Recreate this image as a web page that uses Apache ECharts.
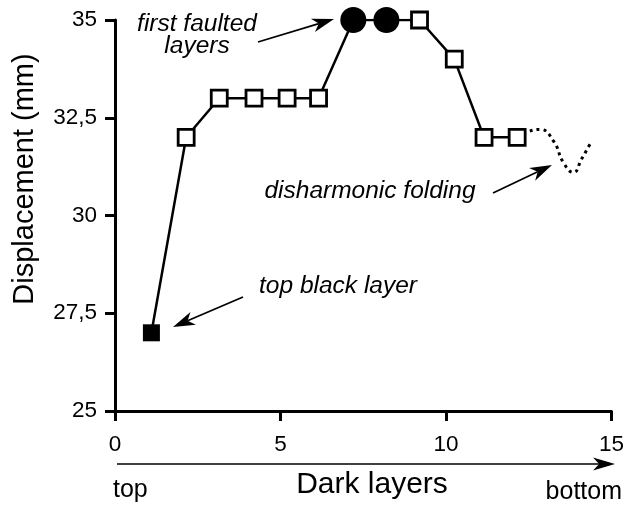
<!DOCTYPE html>
<html>
<head>
<meta charset="utf-8">
<script src="https://cdn.jsdelivr.net/npm/echarts@6/dist/echarts.min.js"></script>
<style>
  html, body { margin: 0; padding: 0; background: #fff; }
  #chart { width: 627px; height: 507px; }
</style>
</head>
<body>
<div id="chart"></div>
<script>
// Dark layer position (from top) and measured displacement
const layerPos     = [1.1, 2.15, 3.15, 4.2, 5.2, 6.15, 7.2, 8.2, 9.2, 10.25, 11.15, 12.15];
const displacement = [27, 32, 33, 33, 33, 33, 35, 35, 35, 34, 32, 32];
// marker kind per layer: 'black' = top black layer, 'fault' = first faulted, 'open' = others
const markerKind   = ['black', 'open', 'open', 'open', 'open', 'open', 'fault', 'fault', 'open', 'open', 'open', 'open'];

// sketch of the disharmonic fold beyond the last measured layer
const foldX = [12.15, 12.5, 12.85, 13.25, 13.55, 13.85, 14.1, 14.4];
const foldY = [32, 32.15, 32.2, 31.9, 31.35, 31.1, 31.45, 31.9];

const xTicks = [0, 5, 10, 15];
const yTicks = [25, 27.5, 30, 32.5, 35];

const FONT = '"Liberation Sans", Arial, Helvetica, sans-serif';

const chart = echarts.init(document.getElementById('chart'), null, { renderer: 'canvas' });

const markerStyle = {
  open:  { symbol: 'rect',   symbolSize: 16, itemStyle: { color: '#fff', borderColor: '#000', borderWidth: 2.8 } },
  black: { symbol: 'rect',   symbolSize: 17, itemStyle: { color: '#000', borderColor: '#000', borderWidth: 0 } },
  fault: { symbol: 'circle', symbolSize: 26, itemStyle: { color: '#000', borderColor: '#000', borderWidth: 0 } }
};

const mainData = layerPos.map((x, i) => Object.assign({ value: [x, displacement[i]] }, markerStyle[markerKind[i]]));
const foldData = foldX.map((x, i) => [x, foldY[i]]);

// arrow helper: shaft plus filled head
function arrow(x1, y1, x2, y2, len, half, width) {
  const dx = x2 - x1, dy = y2 - y1;
  const d = Math.sqrt(dx * dx + dy * dy);
  const ux = dx / d, uy = dy / d;
  const nx = -uy, ny = ux;
  const bx = x2 - ux * len, by = y2 - uy * len;
  const mx = x2 - ux * len * 0.72, my = y2 - uy * len * 0.72;
  return [
    { type: 'line', silent: true, shape: { x1: x1, y1: y1, x2: mx, y2: my },
      style: { stroke: '#000', lineWidth: width } },
    { type: 'polygon', silent: true,
      shape: { points: [[x2, y2], [bx + nx * half, by + ny * half], [mx, my], [bx - nx * half, by - ny * half]] },
      style: { fill: '#000' } }
  ];
}

function label(text, x, y, size, opts) {
  opts = opts || {};
  return {
    type: 'text', silent: true, x: x, y: y, rotation: opts.rotation || 0,
    style: {
      text: text,
      font: (opts.italic ? 'italic ' : '') + size + 'px ' + FONT,
      fill: '#000',
      textAlign: opts.align || 'center', align: opts.align || 'center',
      textVerticalAlign: 'middle', verticalAlign: 'middle'
    }
  };
}

const graphics = [].concat(
  arrow(258, 42, 334, 19, 22, 7, 1.8),
  arrow(493, 193, 552, 165, 22, 7, 1.8),
  arrow(243, 297, 173, 327, 22, 7, 1.8),
  arrow(117, 464, 615, 464, 22, 6.5, 1.6),
  [
    label('first faulted', 197, 24, 24.5, { italic: true }),
    label('layers', 197, 46, 24.5, { italic: true }),
    label('disharmonic folding', 370, 191, 24.5, { italic: true }),
    label('top black layer', 338, 286, 24.5, { italic: true }),
    label('top', 113, 490, 25, { align: 'left' }),
    label('Dark layers', 372, 485, 30),
    label('bottom', 622, 492, 25, { align: 'right' }),
    label('Displacement (mm)', 25, 179, 29, { rotation: Math.PI / 2 })
  ]
);

chart.setOption({
  animation: false,
  backgroundColor: '#fff',
  grid: { left: 115, right: 14, top: 20, bottom: 96, containLabel: false },
  xAxis: {
    type: 'value', min: xTicks[0], max: xTicks[xTicks.length - 1], interval: 5,
    axisLine: { show: true, onZero: false, lineStyle: { color: '#000', width: 3 } },
    axisTick: { show: true, inside: false, length: 10, lineStyle: { color: '#000', width: 3 } },
    axisLabel: { color: '#000', fontSize: 22.5, fontFamily: FONT, margin: 22 },
    splitLine: { show: false }
  },
  yAxis: {
    type: 'value', min: yTicks[0], max: yTicks[yTicks.length - 1], interval: 2.5,
    axisLine: { show: true, onZero: false, lineStyle: { color: '#000', width: 3 } },
    axisTick: { show: true, inside: false, length: 10, lineStyle: { color: '#000', width: 3 } },
    axisLabel: { color: '#000', fontSize: 22.5, fontFamily: FONT, margin: 18,
      formatter: v => String(v).replace('.', ',') },
    splitLine: { show: false }
  },
  series: [
    {
      name: 'fold', type: 'line', data: foldData, smooth: 0.5, symbol: 'none', z: 1,
      lineStyle: { color: '#000', width: 3, type: [3, 4], cap: 'butt' }
    },
    {
      name: 'displacement', type: 'line', data: mainData, z: 3,
      showAllSymbol: true,
      lineStyle: { color: '#000', width: 2.5 }
    }
  ],
  graphic: graphics
});
</script>
</body>
</html>
